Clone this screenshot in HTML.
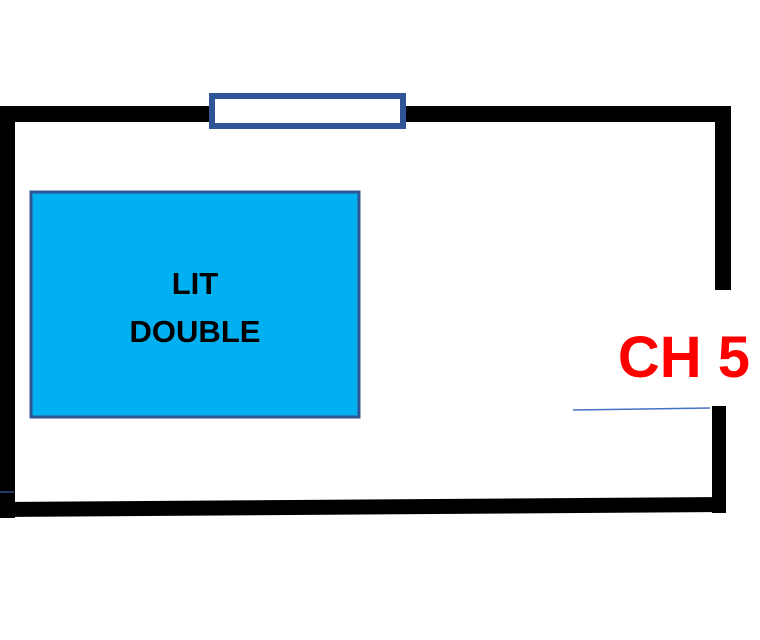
<!DOCTYPE html>
<html><head><style>
html,body{margin:0;padding:0;background:#fff;width:760px;height:640px;overflow:hidden}
</style></head><body>
<svg width="760" height="640" viewBox="0 0 760 640" xmlns="http://www.w3.org/2000/svg">
<rect x="0" y="0" width="760" height="640" fill="#fff"/>
<!-- walls -->
<rect x="0" y="106" width="731" height="16" fill="#000"/>
<rect x="0" y="106" width="15" height="412" fill="#000"/>
<rect x="715" y="106" width="16" height="184" fill="#000"/>
<rect x="712" y="406" width="14" height="107" fill="#000"/>
<polygon points="0,502 726,497 726,512 0,517" fill="#000"/>
<!-- window -->
<rect x="212" y="96" width="191" height="30" fill="#fff" stroke="#2F5597" stroke-width="6"/>
<!-- bed -->
<rect x="31" y="192" width="328" height="225" fill="#00B0F0" stroke="#2F5597" stroke-width="3"/>
<text x="195" y="294" font-family="Liberation Sans, sans-serif" font-weight="bold" font-size="31" text-anchor="middle" fill="#000">LIT</text>
<text x="195" y="342" font-family="Liberation Sans, sans-serif" font-weight="bold" font-size="31" text-anchor="middle" fill="#000">DOUBLE</text>
<!-- label -->
<text x="684" y="377" font-family="Liberation Sans, sans-serif" font-weight="bold" font-size="58" text-anchor="middle" fill="#FF0000">CH 5</text>
<line x1="573" y1="410" x2="710" y2="408" stroke="#4472C4" stroke-width="1.5"/>
<line x1="0" y1="492" x2="14" y2="492" stroke="#4472C4" stroke-width="1"/>
</svg>
</body></html>
